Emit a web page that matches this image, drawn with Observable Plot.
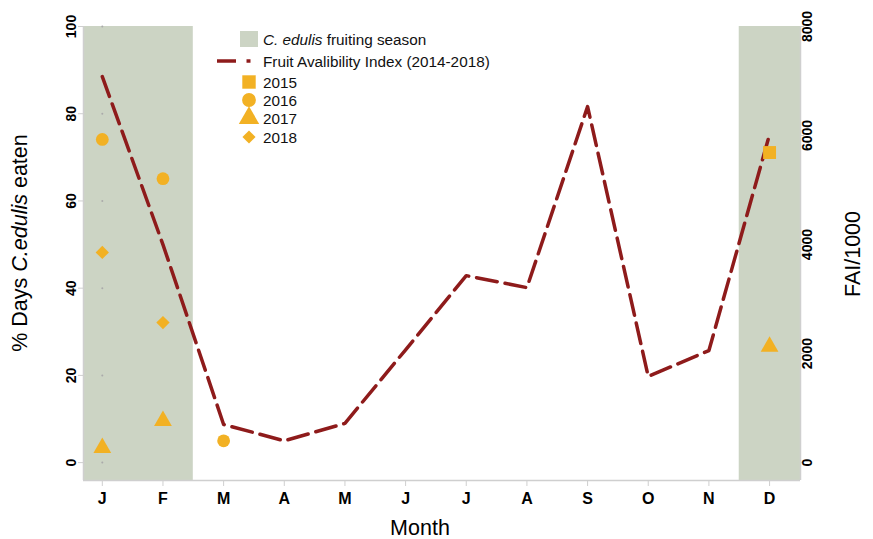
<!DOCTYPE html>
<html><head><meta charset="utf-8">
<script src="https://cdn.jsdelivr.net/npm/d3@7"></script>
<script src="https://cdn.jsdelivr.net/npm/@observablehq/plot@0.6"></script>
<style>
body{margin:0;background:#fff;}
#chart{width:873px;height:539px;}
#chart svg{font-family:"Liberation Sans",Arial,sans-serif;}
</style></head><body><div id="chart"></div>
<script>
// ---- data ----
const monthLabels = ["J","F","M","A","M","J","J","A","S","O","N","D"];
const monthNums = [1,2,3,4,5,6,7,8,9,10,11,12];
const faiValues = [7080, 4000, 700, 400, 720, 2070, 3430, 3210, 6530, 1580, 2055, 6020];
const years = ["2015","2016","2017","2018"];
const eaten2015 = [[12, 71.1]];
const eaten2016 = [[1, 74.1], [2, 65.1], [3, 5.0]];
const eaten2017 = [[1, 3.4], [2, 9.6], [12, 26.6]];
const eaten2018 = [[1, 48.2], [2, 32.1]];
const leftTicks = [0,20,40,60,80,100];
const rightTicks = [0,2000,4000,6000,8000];
const faiScale = 80; // FAI units per % unit (8000 <-> 100)
const xDomain = [0.69, 12.51];
const yDomain = [-4.1, 100];
const seasons = [{start: xDomain[0], end: 2.5}, {start: 11.5, end: xDomain[1]}];

const orange = "#F2B124", red = "#8E1B1B", shade = "#CCD4C4", axisGray = "#CFCFCF";

const faiData = monthNums.map((m,i) => ({m, v: faiValues[i] / faiScale}));
const toObj = (arr, year) => arr.map(([m,v]) => ({m, v, year}));

const chart = Plot.plot({
  width: 873, height: 539,
  marginLeft: 83, marginRight: 73, marginTop: 26, marginBottom: 59,
  x: {domain: xDomain},
  y: {domain: yDomain},
  style: {fontFamily: "Liberation Sans, Arial, sans-serif"},
  marks: [
    Plot.rect(seasons, {x1: "start", x2: "end", y1: yDomain[0], y2: yDomain[1], fill: shade}),
    Plot.dot(leftTicks, {x: monthNums[0], y: d => d, r: 1, fill: "#aaa", stroke: null}),
    Plot.ruleX([xDomain[0], xDomain[1]], {stroke: axisGray, strokeWidth: 1.5}),
    Plot.ruleY([yDomain[0]], {stroke: axisGray, strokeWidth: 1.5}),
    Plot.axisX({ticks: monthNums, tickFormat: d => monthLabels[d-1], tickSize: 6, tickPadding: 6, label: null, fontSize: 16, fontWeight: "bold"}),
    Plot.axisY({anchor: "left", ticks: leftTicks, tickSize: 5, tickPadding: 3, tickRotate: -90, label: null, fontSize: 14, fontWeight: "bold"}),
    Plot.axisY({anchor: "right", ticks: rightTicks.map(t => t / faiScale), tickFormat: d => String(Math.round(d * faiScale)), tickSize: 3, tickPadding: 8, tickRotate: -90, label: null, fontSize: 14, fontWeight: "bold"}),
    Plot.line(faiData, {x: "m", y: "v", stroke: red, strokeWidth: 3.5, strokeDasharray: "21,8"}),
    Plot.dot(toObj(eaten2015, years[0]), {x: "m", y: "v", symbol: "square", r: 7.3, fill: orange}),
    Plot.dot(toObj(eaten2016, years[1]), {x: "m", y: "v", symbol: "circle", r: 6.4, fill: orange}),
    Plot.dot(toObj(eaten2017, years[2]), {x: "m", y: "v", symbol: "triangle", r: 6.6, fill: orange}),
    Plot.dot(toObj(eaten2018, years[3]), {x: "m", y: "v", symbol: "diamond2", r: 6.0, fill: orange})
  ]
});
document.getElementById("chart").appendChild(chart);

const svg = d3.select(chart);
svg.selectAll('[aria-label$="tick"]').attr("stroke", axisGray);

// axis titles
const fontF = "Liberation Sans, Arial, sans-serif";
const yl = svg.append("text").attr("transform", "translate(27,243) rotate(-90)")
  .attr("text-anchor", "middle").attr("font-size", 21.5).attr("font-family", fontF).attr("fill", "#000");
yl.append("tspan").text("% Days ");
yl.append("tspan").attr("font-style", "italic").text("C.edulis");
yl.append("tspan").text(" eaten");
svg.append("text").attr("transform", "translate(860,254) rotate(-90)")
  .attr("text-anchor", "middle").attr("font-size", 21.5).attr("font-family", fontF).text("FAI/1000");
svg.append("text").attr("x", 420).attr("y", 535).attr("text-anchor", "middle")
  .attr("font-size", 21.5).attr("font-family", fontF).text("Month");

// legend
const lg = svg.append("g").attr("font-family", fontF).attr("font-size", 15.3).attr("text-anchor", "start").attr("fill", "#111");
lg.append("rect").attr("x", 240).attr("y", 31).attr("width", 18).attr("height", 16).attr("fill", shade);
const t1 = lg.append("text").attr("x", 263).attr("y", 44.5);
t1.append("tspan").attr("font-style", "italic").text("C. edulis");
t1.append("tspan").text(" fruiting season");
lg.append("line").attr("x1", 217).attr("x2", 236).attr("y1", 61).attr("y2", 61).attr("stroke", red).attr("stroke-width", 3.5);
lg.append("line").attr("x1", 246.5).attr("x2", 250.5).attr("y1", 61).attr("y2", 61).attr("stroke", red).attr("stroke-width", 3.5);
lg.append("text").attr("x", 263).attr("y", 66.5).text("Fruit Avalibility Index (2014-2018)");
const legSyms = [d3.symbolSquare, d3.symbolCircle, d3.symbolTriangle, d3.symbolDiamond2];
const legSizes = [180, 150, 180, 110];
const legY = [82, 100, 118, 137];
years.forEach((yr, i) => {
  lg.append("path").attr("d", d3.symbol(legSyms[i], legSizes[i])()).attr("transform", `translate(249,${legY[i]})`).attr("fill", orange);
  lg.append("text").attr("x", 263).attr("y", legY[i] + 5.5).text(yr);
});
</script></body></html>
